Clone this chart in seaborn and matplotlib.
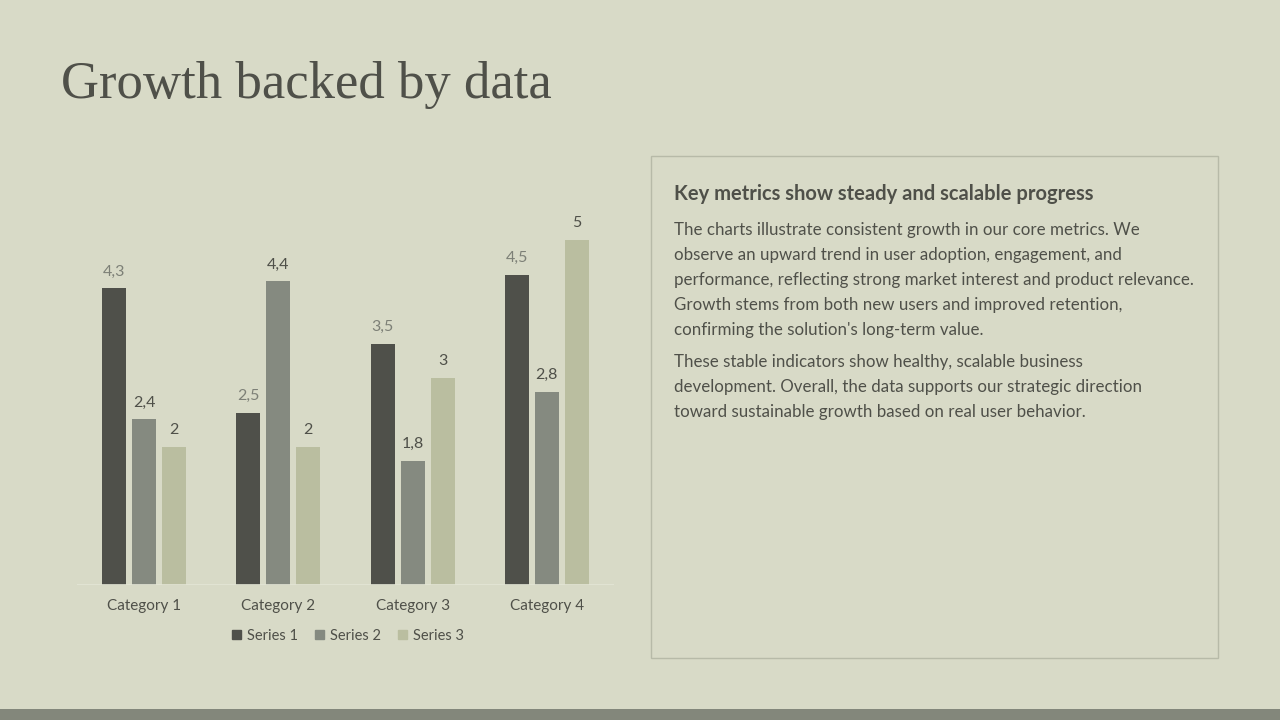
import pandas as pd
import matplotlib.pyplot as plt
import matplotlib.patches as mpatches
import seaborn as sns

# chart data
categories = ['Category 1', 'Category 2', 'Category 3', 'Category 4']
series_names = ['Series 1', 'Series 2', 'Series 3']
series_1 = [4.3, 2.5, 3.5, 4.5]
series_2 = [2.4, 4.4, 1.8, 2.8]
series_3 = [2, 2, 3, 5]

title = 'Growth backed by data'
heading = 'Key metrics show steady and scalable progress'
para_1 = ["The charts illustrate consistent growth in our core metrics. We",
          "observe an upward trend in user adoption, engagement, and",
          "performance, reflecting strong market interest and product relevance.",
          "Growth stems from both new users and improved retention,",
          "confirming the solution's long-term value."]
para_2 = ["These stable indicators show healthy, scalable business",
          "development. Overall, the data supports our strategic direction",
          "toward sustainable growth based on real user behavior."]

bg = '#d8dac7'
dark = '#4f5049'
colors = ['#4f504a', '#858a80', '#babea0']

sns.set_theme(style='white')
plt.rcParams['font.family'] = ['Lato', 'DejaVu Sans']

df = pd.DataFrame({
    'category': categories * 3,
    'series': sum([[s] * 4 for s in series_names], []),
    'value': series_1 + series_2 + series_3,
})

W, H = 1280, 720
fig = plt.figure(figsize=(12.8, 7.2), dpi=100, facecolor=bg)

# bottom stripe
fig.add_artist(mpatches.Rectangle((0, 0), 1, 11 / H, transform=fig.transFigure,
                                  color='#83877b', lw=0))

fig.text(61 / W, 1 - 85 / H, title, fontsize=38, color=dark,
         family=['Liberation Serif'], va='center', ha='left')

# chart axes
left, right, bottom = 77, 614, 585
ymax = 5.4
top = bottom - ymax * 69
ax = fig.add_axes([left / W, 1 - bottom / H, (right - left) / W, (bottom - top) / H])
ax.set_facecolor(bg)
sns.barplot(data=df, x='category', y='value', hue='series', palette=colors,
            width=0.67, gap=0.2, saturation=1, linewidth=0, legend=False, ax=ax)
ax.set_xlim(-0.5, 3.5)
ax.set_ylim(0, ymax)
ax.set_xlabel('')
ax.set_ylabel('')
ax.set_yticks([])
for s in ax.spines.values():
    s.set_visible(False)
ax.axhline(0, color='#e3e5d6', lw=1.2)
ax.tick_params(axis='x', length=0, pad=10, labelsize=11, labelcolor=dark)

label_colors = ['#7d8077', dark, dark]
for cont, lc in zip(ax.containers, label_colors):
    ax.bar_label(cont, fmt=lambda v: f'{v:g}'.replace('.', ','), padding=7,
                 fontsize=11.5, color=lc)

handles = [mpatches.Patch(color=c, label=n) for c, n in zip(colors, series_names)]
fig.legend(handles=handles, loc='center', bbox_to_anchor=(348 / W, 1 - 636 / H),
           ncol=3, frameon=False, fontsize=10.5, handlelength=0.6, handleheight=0.6,
           handletextpad=0.4, columnspacing=1.2, labelcolor=dark)

# text box
fig.add_artist(mpatches.Rectangle((651 / W, 1 - 658 / H), 567 / W, 502 / H,
                                  transform=fig.transFigure, facecolor='none',
                                  edgecolor='#b7baa8', lw=1))
tx = 674 / W
fig.text(tx, 1 - 194 / H, heading, fontsize=14.5, fontweight='bold', color=dark, va='center')
for i, line in enumerate(para_1):
    fig.text(tx, 1 - (230 + 25 * i) / H, line, fontsize=12.2, color=dark, va='center')
for i, line in enumerate(para_2):
    fig.text(tx, 1 - (362 + 25 * i) / H, line, fontsize=12.2, color=dark, va='center')

fig.savefig('out.png', dpi=100, facecolor=bg)
